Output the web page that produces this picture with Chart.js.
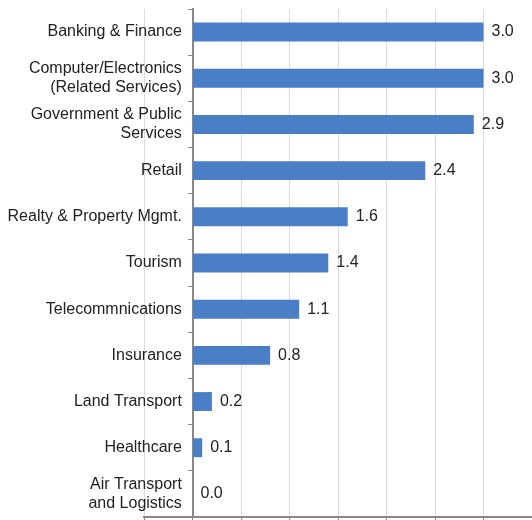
<!DOCTYPE html>
<html>
<head>
<meta charset="utf-8">
<script src="https://cdn.jsdelivr.net/npm/chart.js@4/dist/chart.umd.min.js"></script>
<style>
  html, body { margin: 0; padding: 0; background: #fff; overflow: hidden; }
  #wrap { width: 532px; height: 520px; position: relative; }
</style>
</head>
<body>
<div id="wrap"><canvas id="chart"></canvas></div>
<script>
const categories = [
  "Banking & Finance",
  ["Computer/Electronics", "(Related Services)"],
  ["Government & Public", "Services"],
  "Retail",
  "Realty & Property Mgmt.",
  "Tourism",
  "Telecommnications",
  "Insurance",
  "Land Transport",
  "Healthcare",
  ["Air Transport", "and Logistics"]
];
const values = [3.0, 3.0, 2.9, 2.4, 1.6, 1.4, 1.1, 0.8, 0.2, 0.1, 0.0];
const xTicks = [-0.5, 0, 0.5, 1, 1.5, 2, 2.5, 3, 3.5];

const fontFamily = "'Liberation Sans', Arial, sans-serif";

// value labels at the end of each bar
const barLabels = {
  id: "barLabels",
  afterDatasetsDraw(chart) {
    const ctx = chart.ctx;
    const meta = chart.getDatasetMeta(0);
    ctx.save();
    ctx.font = "16px " + fontFamily;
    ctx.fillStyle = "#222";
    ctx.textBaseline = "middle";
    ctx.textAlign = "left";
    meta.data.forEach((bar, i) => {
      ctx.fillText(values[i].toFixed(1), bar.x + 8, bar.y);
    });
    ctx.restore();
  }
};

// no extra room for half labels above / below the plot
const noPad = scale => { scale.paddingTop = 0; scale.paddingBottom = 0; };

new Chart(document.getElementById("chart"), {
  type: "bar",
  data: {
    labels: categories,
    datasets: [{
      data: values,
      backgroundColor: "#4a7ec7",
      barPercentage: 0.41,
      categoryPercentage: 1
    }]
  },
  options: {
    indexAxis: "y",
    responsive: true,
    maintainAspectRatio: false,
    animation: false,
    layout: { padding: { left: 144, top: 9, right: 0, bottom: 0 } },
    plugins: { legend: { display: false }, tooltip: { enabled: false } },
    scales: {
      x: {
        min: -0.5,
        max: 3.5,
        afterBuildTicks: scale => { scale.ticks = xTicks.map(v => ({ value: v })); },
        grid: { color: "#dcdcdc", tickColor: "#888", tickLength: 3 },
        border: { color: "#888", width: 2 },
        ticks: { display: false }
      },
      // category labels, set a little left of the zero line
      y: {
        position: { x: -0.11 },
        afterFit: noPad,
        grid: { display: false },
        border: { display: false },
        ticks: {
          color: "#222",
          font: { family: fontFamily, size: 16, lineHeight: 1.2 }
        }
      },
      // axis line and tick marks at zero
      y2: {
        type: "category",
        labels: categories,
        offset: true,
        position: { x: 0 },
        afterFit: noPad,
        grid: { drawOnChartArea: false, offset: true, tickColor: "#888", tickLength: 4 },
        border: { color: "#888", width: 2 },
        ticks: { display: false }
      }
    }
  },
  plugins: [barLabels]
});
</script>
</body>
</html>
